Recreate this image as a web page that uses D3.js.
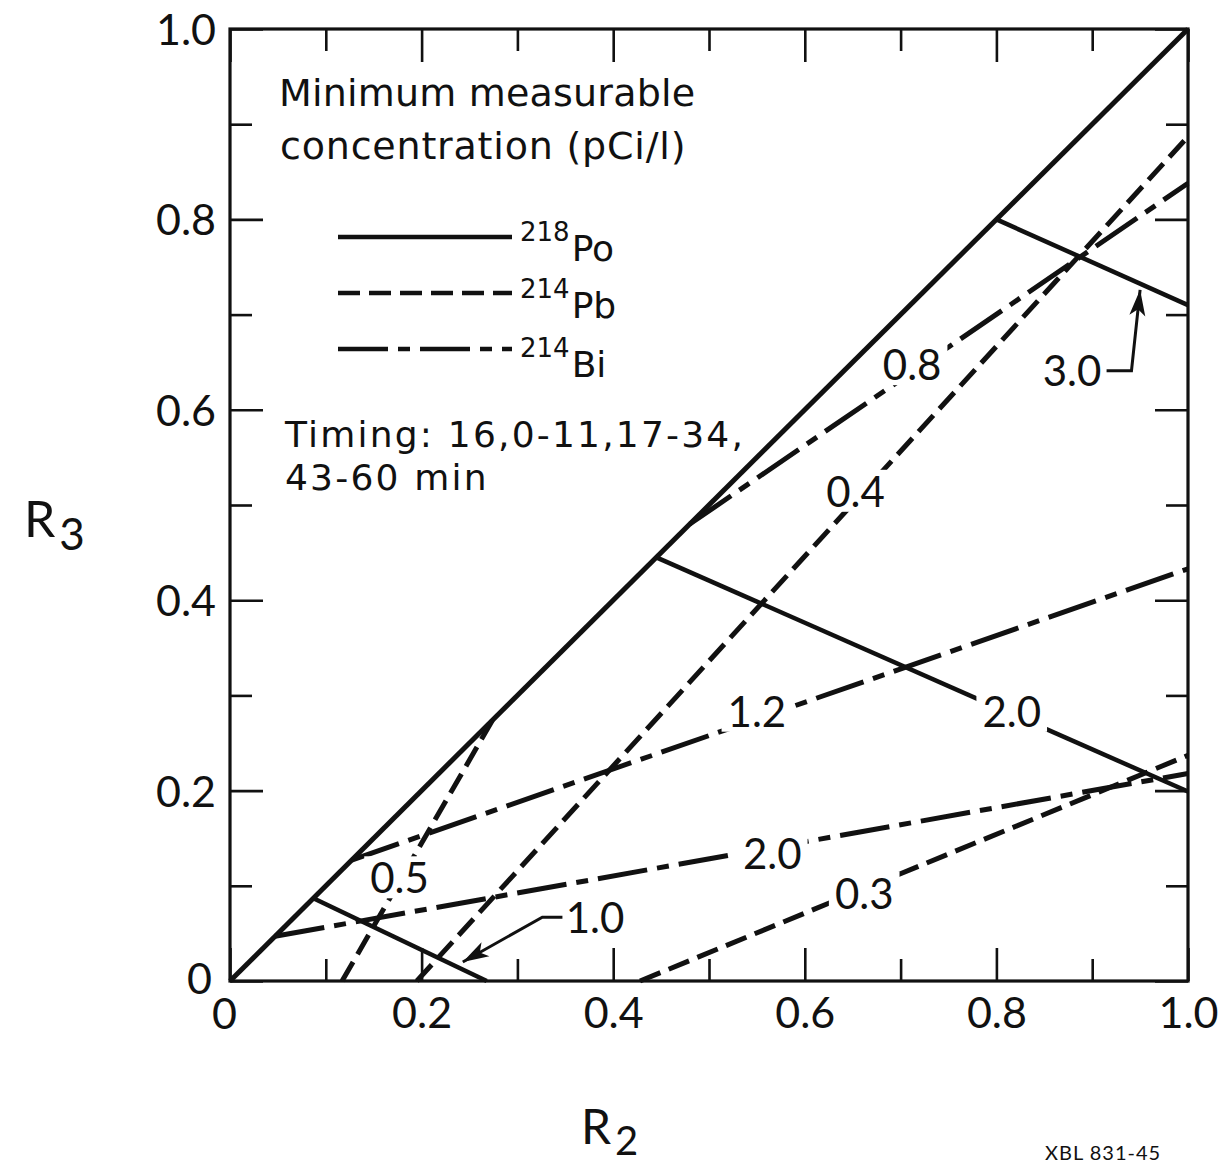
<!DOCTYPE html>
<html>
<head>
<meta charset="utf-8">
<script src="https://cdn.jsdelivr.net/npm/d3@7"></script>
<style>
  html, body { margin: 0; padding: 0; background: #fff; }
  svg { display: block; }
  text { font-family: Lato, "DejaVu Sans", sans-serif; fill: #111; }
  .legend-text { font-family: "DejaVu Sans", sans-serif; }
</style>
</head>
<body>
<svg id="chart" width="1232" height="1170"></svg>
<script>
// Axis ticks (R2 and R3 share the same 0–1 scale)
const tickValues = [0, 0.1, 0.2, 0.3, 0.4, 0.5, 0.6, 0.7, 0.8, 0.9, 1.0];
const majorTicks = [0, 0.2, 0.4, 0.6, 0.8, 1.0];
const tickLabels = ["0", "0.2", "0.4", "0.6", "0.8", "1.0"];

// Boundary R3 = R2
const boundary = [[0, 0], [1, 1]];

// Minimum measurable concentration contours (pCi/l), endpoints in (R2, R3)
const po218 = [
  { conc: "1.0", pts: [[0.087, 0.087], [0.268, 0]] },
  { conc: "2.0", pts: [[0.445, 0.445], [1, 0.199]] },
  { conc: "3.0", pts: [[0.80, 0.80], [1, 0.71]] }
];
const pb214 = [
  { conc: "0.5", pts: [[0.117, 0], [0.274, 0.274]] },
  { conc: "0.4", pts: [[0.195, 0], [1, 0.887]] },
  { conc: "0.3", pts: [[0.428, 0], [1, 0.237]] }
];
const bi214 = [
  { conc: "0.8", pts: [[0.48, 0.48], [1, 0.838]] },
  { conc: "1.2", pts: [[0.127, 0.127], [1, 0.433]] },
  { conc: "2.0", pts: [[0.047, 0.047], [1, 0.218]] }
];

// Where each contour value is written (R2, R3)
const inlineLabels = [
  { text: "0.5", at: [0.177, 0.108] },
  { text: "0.8", at: [0.712, 0.647] },
  { text: "0.4", at: [0.653, 0.514] },
  { text: "1.2", at: [0.550, 0.283] },
  { text: "2.0", at: [0.816, 0.283] },
  { text: "2.0", at: [0.566, 0.134] },
  { text: "0.3", at: [0.662, 0.092] }
];
const arrowLabels = [
  { text: "1.0", at: [0.381, 0.066], path: [[0.347, 0.067], [0.326, 0.067], [0.243, 0.020]] },
  { text: "3.0", at: [0.879, 0.641], path: [[0.915, 0.641], [0.941, 0.641], [0.950, 0.726]] }
];

const svg = d3.select("#chart");
const x = d3.scaleLinear().domain([0, 1]).range([230, 1188]);
const y = d3.scaleLinear().domain([0, 1]).range([981, 29]);

const MAJOR = 33, MINOR = 22;
const isMajor = v => majorTicks.some(m => Math.abs(m - v) < 1e-9);
const labelFor = v => {
  const i = majorTicks.findIndex(m => Math.abs(m - v) < 1e-9);
  return i >= 0 ? tickLabels[i] : "";
};

function styleAxis(g, horizontal, sign) {
  g.select(".domain").remove();
  g.selectAll(".tick line")
    .attr("stroke", "#111").attr("stroke-width", 2.6)
    .each(function(d) {
      const len = (isMajor(d) ? MAJOR : MINOR) * sign;
      d3.select(this).attr(horizontal ? "y2" : "x2", len);
    });
}

// Bottom axis with labels
const gB = svg.append("g").attr("transform", `translate(0,${y(0)})`)
  .call(d3.axisBottom(x).tickValues(tickValues).tickSize(-MINOR).tickFormat(labelFor));
styleAxis(gB, true, -1);
gB.selectAll(".tick text")
  .attr("y", 0).attr("dy", null)
  .attr("transform", "translate(0,47)")
  .style("font-size", "43px").attr("text-anchor", "middle");
gB.selectAll(".tick text").filter(d => d === 0).attr("transform", "translate(-6,48)");

// Top axis (ticks only)
const gT = svg.append("g").attr("transform", `translate(0,${y(1)})`)
  .call(d3.axisTop(x).tickValues(tickValues).tickSize(-MINOR).tickFormat(""));
styleAxis(gT, true, 1);

// Left axis with labels
const gL = svg.append("g").attr("transform", `translate(${x(0)},0)`)
  .call(d3.axisLeft(y).tickValues(tickValues).tickSize(-MINOR).tickFormat(labelFor));
styleAxis(gL, false, 1);
gL.selectAll(".tick text")
  .attr("x", -14).attr("dy", "0.36em")
  .style("font-size", "43px").attr("text-anchor", "end");
gL.selectAll(".tick text").filter(d => d === 0).attr("x", -18).attr("dy", "0.3em");

// Right axis (ticks only)
const gR = svg.append("g").attr("transform", `translate(${x(1)},0)`)
  .call(d3.axisRight(y).tickValues(tickValues).tickSize(-MINOR).tickFormat(""));
styleAxis(gR, false, -1);

// Frame
svg.append("rect")
  .attr("x", x(0)).attr("y", y(1))
  .attr("width", x(1) - x(0)).attr("height", y(0) - y(1))
  .attr("fill", "none").attr("stroke", "#111").attr("stroke-width", 3.2);

svg.selectAll(".tick text").style("font-family", "Lato, 'DejaVu Sans', sans-serif").attr("fill", "#111");

const line = d3.line().x(d => x(d[0])).y(d => y(d[1]));
const plot = svg.append("g").attr("fill", "none").attr("stroke", "#111")
  .attr("stroke-linecap", "butt");

const PB_DASH = "22,9";
const BI_DASH = "50,10,12,10";

plot.append("path").attr("d", line(boundary)).attr("stroke-width", 5);
plot.selectAll(".po").data(po218).join("path").attr("class", "po")
  .attr("d", d => line(d.pts)).attr("stroke-width", 4.5);
plot.selectAll(".pb").data(pb214).join("path").attr("class", "pb")
  .attr("d", d => line(d.pts)).attr("stroke-width", 5).attr("stroke-dasharray", PB_DASH);
plot.selectAll(".bi").data(bi214).join("path").attr("class", "bi")
  .attr("d", d => line(d.pts)).attr("stroke-width", 5).attr("stroke-dasharray", BI_DASH);

// Contour values written across the lines, each on a white patch that breaks the line
const lbl = svg.append("g");
inlineLabels.forEach(d => {
  const g = lbl.append("g");
  const t = g.append("text")
    .attr("x", x(d.at[0])).attr("y", y(d.at[1]))
    .attr("dy", "0.36em").attr("text-anchor", "middle")
    .style("font-size", "42px")
    .text(d.text);
  const b = t.node().getBBox();
  g.insert("rect", "text")
    .attr("x", b.x - 6).attr("y", b.y + 4)
    .attr("width", b.width + 12).attr("height", b.height - 8)
    .attr("fill", "#fff");
});

// Values pointed to with leader arrows
const arrows = svg.append("g");
arrowLabels.forEach(a => {
  arrows.append("text")
    .attr("x", x(a.at[0])).attr("y", y(a.at[1]))
    .attr("dy", "0.36em").attr("text-anchor", "middle")
    .style("font-size", "42px").text(a.text);
  arrows.append("path").attr("d", line(a.path))
    .attr("fill", "none").attr("stroke", "#111").attr("stroke-width", 3);
  const p1 = a.path[a.path.length - 2], p2 = a.path[a.path.length - 1];
  const x1 = x(p1[0]), y1 = y(p1[1]), x2 = x(p2[0]), y2 = y(p2[1]);
  const ang = Math.atan2(y2 - y1, x2 - x1);
  const L = 26, W = 8;
  const bx = x2 - L * Math.cos(ang), by = y2 - L * Math.sin(ang);
  const nx = -Math.sin(ang) * W, ny = Math.cos(ang) * W;
  arrows.append("path")
    .attr("d", `M${x2},${y2}L${bx + nx},${by + ny}L${bx + 0.25 * L * Math.cos(ang)},${by + 0.25 * L * Math.sin(ang)}L${bx - nx},${by - ny}Z`)
    .attr("fill", "#111");
});

// Legend block
const legend = svg.append("g").attr("class", "legend-text");
legend.append("text").attr("class", "legend-text").attr("x", 279).attr("y", 106)
  .style("font-size", "38px").style("letter-spacing", "0.2px").text("Minimum measurable");
legend.append("text").attr("class", "legend-text").attr("x", 280).attr("y", 159)
  .style("font-size", "38px").style("letter-spacing", "0.8px").text("concentration (pCi/l)");

const legendRows = [
  { mass: "218", el: "Po", dash: null, y: 237, base: 255 },
  { mass: "214", el: "Pb", dash: PB_DASH, y: 293, base: 312 },
  { mass: "214", el: "Bi", dash: BI_DASH, y: 349, base: 371 }
];
legendRows.forEach(r => {
  legend.append("line").attr("x1", 338).attr("x2", 512).attr("y1", r.y).attr("y2", r.y)
    .attr("stroke", "#111").attr("stroke-width", 4.5)
    .attr("stroke-dasharray", r.dash);
  const t = legend.append("text").attr("class", "legend-text").attr("x", 520).attr("y", r.base).style("font-size", "36px");
  t.append("tspan").attr("dy", "-0.55em").style("font-size", "26px").text(r.mass);
  t.append("tspan").attr("dy", "0.55em").attr("dx", "2").text(r.el);
});

legend.append("text").attr("class", "legend-text").attr("x", 285).attr("y", 447)
  .style("font-size", "36px").style("letter-spacing", "2.2px").text("Timing: 16,0-11,17-34,");
legend.append("text").attr("class", "legend-text").attr("x", 285).attr("y", 490)
  .style("font-size", "36px").style("letter-spacing", "2.2px").text("43-60 min");

// Axis titles
const t3 = svg.append("text").attr("x", 24).attr("y", 537).style("font-size", "50px");
t3.append("tspan").text("R");
t3.append("tspan").attr("dy", "0.3em").attr("dx", "4").style("font-size", "44px").text("3");

const t2 = svg.append("text").attr("x", 581).attr("y", 1144).style("font-size", "48px");
t2.append("tspan").text("R");
t2.append("tspan").attr("dy", "0.28em").attr("dx", "4").style("font-size", "40px").text("2");

svg.append("text").attr("x", 1045).attr("y", 1160).style("font-size", "20px")
  .style("letter-spacing", "1px").text("XBL 831-45");
</script>
</body>
</html>
